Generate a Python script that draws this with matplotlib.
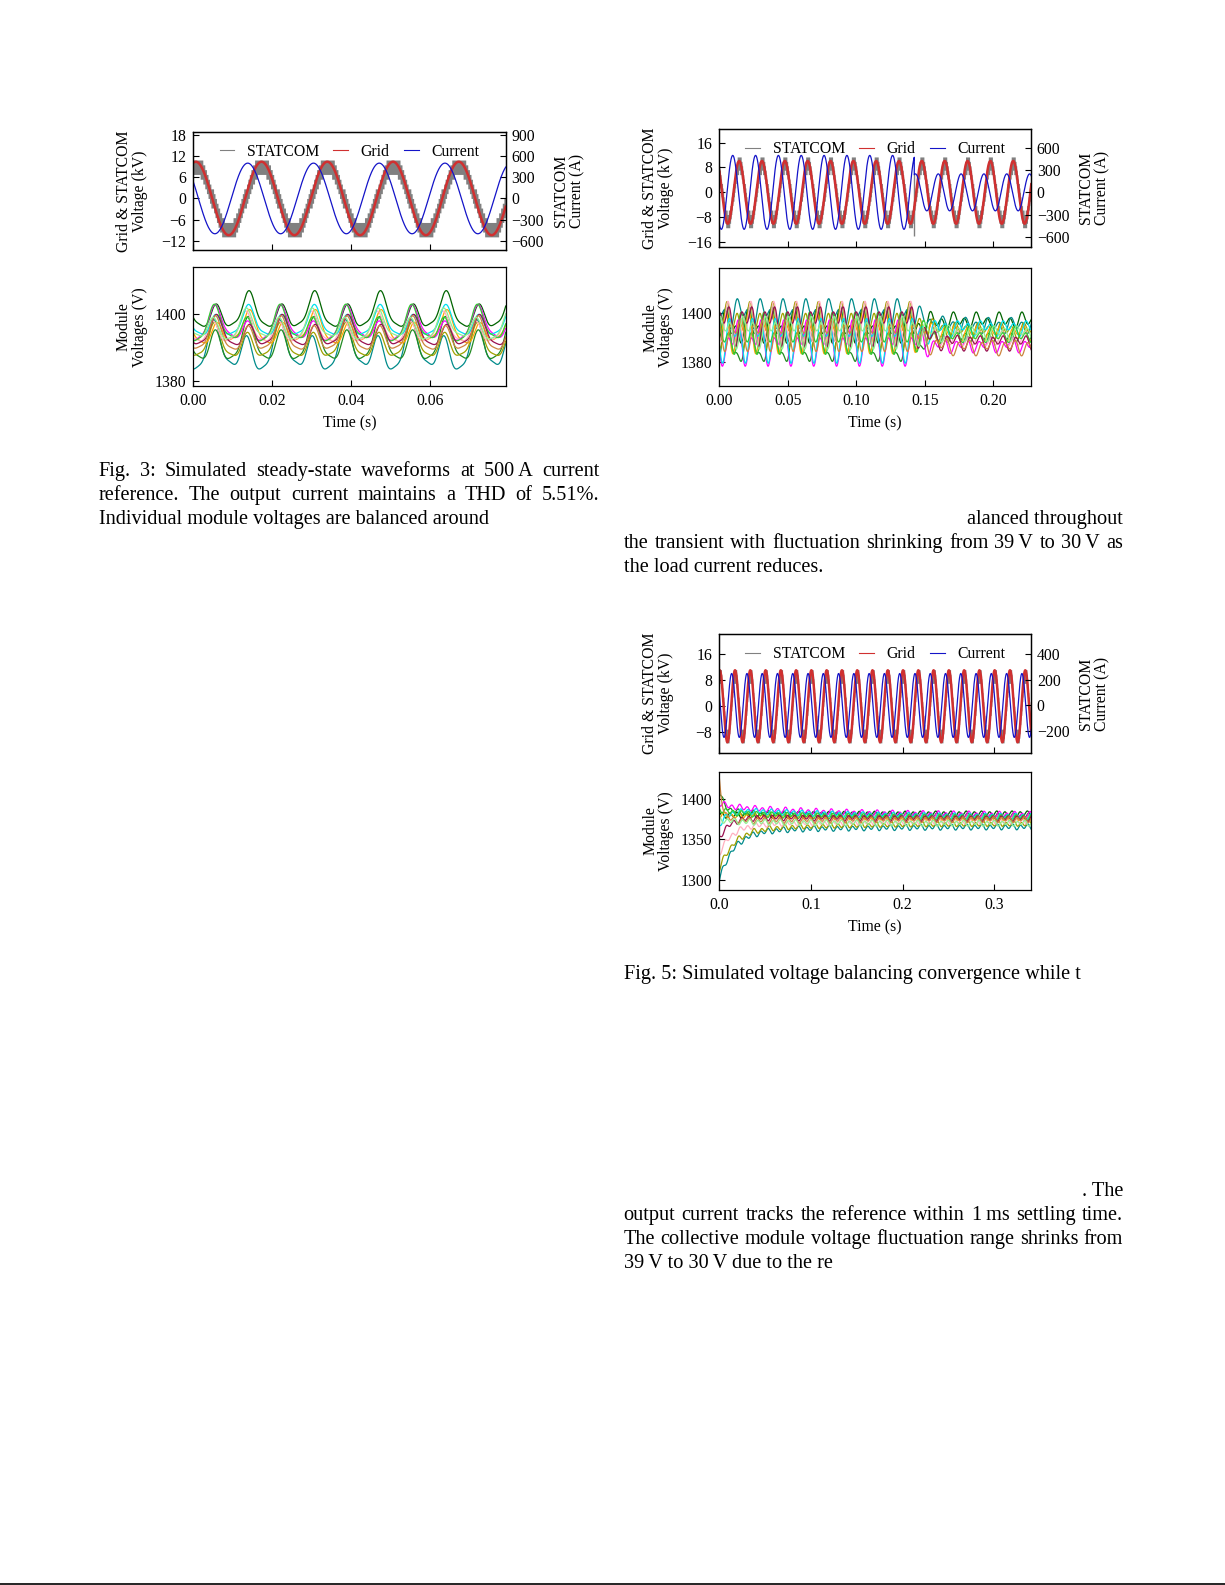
"""Page with three simulated STATCOM waveform figures and the surrounding caption text."""

import matplotlib

matplotlib.use("Agg")
import matplotlib.pyplot as plt
import numpy as np
from matplotlib.lines import Line2D
from matplotlib.ticker import FormatStrFormatter

W, H = 1225, 1585
plt.rcParams["font.family"] = ["Liberation Serif", "DejaVu Serif"]

TICK_SIZE = 11.3
TEXT_SIZE = 14.6
GRID_C = "#d03030"
STAT_C = "#808080"
CURR_C = "#1414c8"
MODULE_COLORS = ["#006400", "#008b8b", "#228b22", "#a0a000", "#ffa500", "#ff00ff",
                 "#ffb0c0", "#00e0ee", "#32cd32", "#9a1050", "#cd853f", "#90ee90"]

LINE_HZ = 60.0
N_LEVELS = 8

# --- Fig. 3: steady state at 500 A ---
F3_T_END = 0.0792
F3_LEVEL_KV = 1.36
F3_GRID_AMP_KV = 10.4
F3_GRID_PEAK_S = 0.0173
F3_CURR_AMP_A = 500
F3_CURR_PEAK_S = 0.0138
F3_MEAN_V = [1400, 1389, 1391, 1391, 1395, 1396, 1395, 1397, 1396, 1394, 1393, 1396]
F3_R120_V = [4.0, 5.5, 5.0, 4.0, 3.5, 3.5, 3.5, 3.5, 4.0, 3.5, 4.0, 3.5]
F3_R60_V = [2.0, 2.5, 2.0, 1.5, 2.0, 2.5, 1.5, 1.5, 2.0, 1.5, 1.5, 1.5]
F3_P120_S = [0.0058, 0.0052, 0.0056, 0.0054, 0.0060, 0.0055, 0.0050, 0.0057, 0.0053, 0.0059, 0.0056, 0.0051]
F3_P60_S = [0.0140, 0.0060, 0.0140, 0.0220, 0.0470, 0.0560, 0.0300, 0.0140, 0.0060, 0.0390, 0.0220, 0.0310]

# --- Fig. 4: load current step ---
F4_T_END = 0.2277
F4_LEVEL_KV = 1.425
F4_GRID_AMP_KV = 10.1
F4_GRID_PEAK_S = 0.0145
F4_CURR_PEAK_S = 0.0098
F4_CURR_BEFORE_A = 500
F4_CURR_AFTER_A = 250
F4_STEP_S = 0.1423
F4_SPIKE_KV = -14.0
F4_MEAN_BEFORE_V = [1394, 1400, 1389, 1396, 1393, 1388, 1394, 1390, 1391, 1396, 1392, 1393]
F4_MEAN_AFTER_V = [1397, 1395, 1391, 1393, 1392, 1387, 1389, 1394, 1391, 1388, 1386, 1392]
F4_R120_BEFORE_V = [4.0, 3.5, 4.0, 6.0, 5.0, 5.0, 6.0, 5.0, 5.0, 5.0, 4.0, 4.0]
F4_R60_BEFORE_V = [4.0, 3.5, 10.0, 5.0, 5.0, 6.0, 5.0, 6.0, 5.0, 5.0, 4.0, 4.0]
F4_P60_S = [0.0221, 0.0150, 0.0221, 0.0080, 0.0190, 0.0120, 0.0060, 0.0100, 0.0170, 0.0040, 0.0130, 0.0200]
F4_R120_AFTER_V = 2.2
F4_R60_AFTER_V = 1.5

# --- Fig. 5: voltage balancing convergence ---
F5_T_END = 0.3404
F5_LEVEL_KV = 1.40
F5_GRID_AMP_KV = 11.0
F5_GRID_PEAK_S = 0.0005
F5_CURR_AMP_A = 250
F5_CURR_PEAK_S = 0.0135
F5_START_V = [1380, 1300, 1410, 1313, 1380, 1395, 1332, 1368, 1388, 1352, 1424, 1375]
F5_SETTLE_V = [1380, 1360, 1384, 1362, 1380, 1391, 1368, 1388, 1383, 1378, 1373, 1372]
F5_FINAL_V = [1382, 1366, 1378, 1370, 1376, 1380, 1373, 1378, 1377, 1376, 1375, 1370]
F5_TAU_S = [0.010, 0.016, 0.006, 0.016, 0.010, 0.010, 0.014, 0.010, 0.010, 0.012, 0.004, 0.010]
F5_R120_V = 2.8
F5_R60_V = 1.2

PAGE_LINES = [
    ("Fig. 3: Simulated steady-state waveforms at 500\u2009A current", 98.5, 599.5, 475.7, "justify"),
    ("reference. The output current maintains a THD of 5.51%.", 98.5, 599.5, 499.7, "justify"),
    ("Individual module voltages are balanced around", 98.5, 599.5, 523.7, "left"),
    ("alanced throughout", 623.5, 1123.0, 524.0, "right"),
    ("the transient with fluctuation shrinking from 39\u2009V to 30\u2009V as", 623.5, 1123.0, 548.3, "justify"),
    ("the load current reduces.", 623.5, 1123.0, 572.5, "left"),
    ("Fig. 5: Simulated voltage balancing convergence while t", 623.5, 1123.0, 979.3, "left"),
    (". The", 623.5, 1123.0, 1196.0, "right"),
    ("output current tracks the reference within 1\u2009ms settling time.", 623.5, 1123.0, 1220.0, "justify"),
    ("The collective module voltage fluctuation range shrinks from", 623.5, 1123.0, 1244.0, "justify"),
    ("39\u2009V to 30\u2009V due to the re", 623.5, 1123.0, 1267.7, "left"),
]


def rect(left, top, right, bottom):
    return [left / W, 1 - bottom / H, (right - left) / W, (bottom - top) / H]


def wave(t, amp, peak, hz=LINE_HZ):
    return amp * np.cos(2 * np.pi * hz * (t - peak))


def statcom_band(v, step):
    k = np.floor(np.abs(v) / step)
    lo = (k - 2) * step
    hi = np.minimum(k + 2, N_LEVELS) * step
    sign = np.where(v >= 0, 1.0, -1.0)
    a, b = sign * lo, sign * hi
    return np.minimum(a, b), np.maximum(a, b)


def style(ax, labelsize=TICK_SIZE):
    for spine in ax.spines.values():
        spine.set_linewidth(0.9)
    ax.tick_params(direction="in", length=4, width=0.8, labelsize=labelsize, pad=5)


def draw_figure(top, bottom, t, grid, current, modules, xlim, xticks, xfmt,
                ylim, yticks, ylim_a, yticks_a, vlim, vticks, step, labels_x, spike=None):
    ax = fig.add_axes(rect(*top))
    lo, hi = statcom_band(grid, step)
    ax.fill_between(t, lo, hi, color=STAT_C, lw=0, zorder=1)
    if spike is not None:
        ax.vlines(spike[0], spike[1], 6, color=STAT_C, lw=1.0, zorder=1)
    ax.plot(t, grid, color=GRID_C, lw=1.8, zorder=2)
    ax.set(xlim=xlim, ylim=ylim, xticks=xticks, yticks=yticks)
    ax.tick_params(labelbottom=False)
    style(ax)
    ax.tick_params(right=False, top=False)

    ax2 = ax.twinx()
    ax2.plot(t, current, color=CURR_C, lw=0.9)
    ax2.set(ylim=ylim_a, yticks=yticks_a)
    style(ax2)
    ax2.tick_params(left=False, top=False, bottom=False, pad=4)
    handles = [Line2D([], [], color=STAT_C, lw=0.8), Line2D([], [], color=GRID_C, lw=0.8),
               Line2D([], [], color=CURR_C, lw=0.8)]
    ax2.legend(handles, ["STATCOM", "Grid", "Current"], loc="center", ncol=3, frameon=False,
               bbox_to_anchor=(0.5, 0.83), fontsize=TICK_SIZE, handlelength=0.95,
               handletextpad=0.8, columnspacing=0.9, borderaxespad=0)

    axb = fig.add_axes(rect(*bottom))
    for trace, color in zip(modules, MODULE_COLORS):
        axb.plot(t, trace, color=color, lw=0.9)
    axb.set(xlim=xlim, ylim=vlim, xticks=xticks, yticks=vticks)
    axb.xaxis.set_major_formatter(FormatStrFormatter(xfmt))
    style(axb)
    axb.tick_params(right=False, top=False)

    cx_left, cx_right = labels_x
    ym_top = (top[1] + top[3]) / 2
    ym_bot = (bottom[1] + bottom[3]) / 2
    kw = dict(rotation=90, ha="center", va="center", multialignment="center",
              fontsize=TICK_SIZE, linespacing=1.0)
    fig.text(cx_left / W, 1 - ym_top / H, "Grid & STATCOM\nVoltage (kV)", **kw)
    fig.text(cx_right / W, 1 - ym_top / H, "STATCOM\nCurrent (A)", **kw)
    fig.text(cx_left / W, 1 - ym_bot / H, "Module\nVoltages (V)", **kw)
    fig.text((top[0] + top[2]) / 2 / W, 1 - (bottom[3] + 37.5) / H, "Time (s)",
             ha="center", va="center", fontsize=TICK_SIZE)


def place_line(text, x0, x1, baseline, mode):
    y = 1 - baseline / H
    if mode == "left":
        fig.text(x0 / W, y, text, fontsize=TEXT_SIZE, va="baseline", ha="left")
        return
    if mode == "right":
        fig.text(x1 / W, y, text, fontsize=TEXT_SIZE, va="baseline", ha="right")
        return
    words = text.split(" ")
    items = [fig.text(0, y, w, fontsize=TEXT_SIZE, va="baseline", ha="left") for w in words]
    renderer = fig.canvas.get_renderer()
    widths = [item.get_window_extent(renderer).width for item in items]
    gap = (x1 - x0 - sum(widths)) / (len(words) - 1)
    x = x0
    for item, width in zip(items, widths):
        item.set_x(x / W)
        x += width + gap


fig = plt.figure(figsize=(W / 100, H / 100), dpi=100)

# Fig. 3
t3 = np.linspace(0, F3_T_END, 6000)
grid3 = wave(t3, F3_GRID_AMP_KV, F3_GRID_PEAK_S)
curr3 = wave(t3, F3_CURR_AMP_A, F3_CURR_PEAK_S)
mods3 = [m + wave(t3, a, p, 2 * LINE_HZ) + 0.25 * wave(t3, a, p, 4 * LINE_HZ) + wave(t3, b, q)
         for m, a, p, b, q in zip(F3_MEAN_V, F3_R120_V, F3_P120_S, F3_R60_V, F3_P60_S)]
draw_figure((193.3, 131.7, 505.7, 250.0), (193.3, 267.3, 505.7, 386.0), t3, grid3, curr3, mods3,
            (0, F3_T_END), [0, 0.02, 0.04, 0.06], "%.2f",
            (-14.6, 18.9), [-12, -6, 0, 6, 12, 18], (-730, 945), [-600, -300, 0, 300, 600, 900],
            (1378.4, 1414.0), [1380, 1400], F3_LEVEL_KV, (131.5, 569.0))

# Fig. 4
t4 = np.linspace(0, F4_T_END, 9000)
after = t4 >= F4_STEP_S
blend = np.where(after, 1 - np.exp(-(t4 - F4_STEP_S) / 0.008), 0.0)
grid4 = wave(t4, F4_GRID_AMP_KV, F4_GRID_PEAK_S)
curr4 = np.where(after, wave(t4, F4_CURR_AFTER_A, F4_CURR_PEAK_S), wave(t4, F4_CURR_BEFORE_A, F4_CURR_PEAK_S))
mods4 = []
for i in range(len(F4_MEAN_BEFORE_V)):
    level = F4_MEAN_BEFORE_V[i] + (F4_MEAN_AFTER_V[i] - F4_MEAN_BEFORE_V[i]) * blend
    a120 = F4_R120_BEFORE_V[i] + (F4_R120_AFTER_V - F4_R120_BEFORE_V[i]) * blend
    a60 = F4_R60_BEFORE_V[i] + (F4_R60_AFTER_V - F4_R60_BEFORE_V[i]) * blend
    mods4.append(level + a120 * np.cos(2 * np.pi * 2 * LINE_HZ * (t4 - 0.004 - 0.0004 * i))
                 + a60 * np.cos(2 * np.pi * LINE_HZ * (t4 - F4_P60_S[i])))
draw_figure((719.3, 129.3, 1031.3, 247.0), (719.3, 268.3, 1031.3, 386.0), t4, grid4, curr4, mods4,
            (0, F4_T_END), [0, 0.05, 0.10, 0.15, 0.20], "%.2f",
            (-17.6, 20.3), [-16, -8, 0, 8, 16], (-739, 853), [-600, -300, 0, 300, 600],
            (1369.9, 1418.6), [1380, 1400], F4_LEVEL_KV, (658.5, 1094.0),
            spike=(F4_STEP_S, F4_SPIKE_KV))

# Fig. 5
t5 = np.linspace(0, F5_T_END, 12000)
grid5 = wave(t5, F5_GRID_AMP_KV, F5_GRID_PEAK_S)
curr5 = wave(t5, F5_CURR_AMP_A, F5_CURR_PEAK_S)
mods5 = []
for i in range(len(F5_START_V)):
    level = (F5_FINAL_V[i] + (F5_SETTLE_V[i] - F5_FINAL_V[i]) * np.exp(-t5 / 0.12)
             + (F5_START_V[i] - F5_SETTLE_V[i]) * np.exp(-t5 / F5_TAU_S[i]))
    mods5.append(level + F5_R120_V * np.cos(2 * np.pi * 2 * LINE_HZ * (t5 - 0.003 - 0.0005 * i))
                 + F5_R60_V * np.cos(2 * np.pi * LINE_HZ * (t5 - 0.0013 * i)))
draw_figure((719.3, 634.0, 1031.3, 753.0), (719.3, 771.7, 1031.3, 890.0), t5, grid5, curr5, mods5,
            (0, F5_T_END), [0, 0.1, 0.2, 0.3], "%.1f",
            (-14.3, 22.1), [-8, 0, 8, 16], (-372, 559), [-200, 0, 200, 400],
            (1287.6, 1433.7), [1300, 1350, 1400], F5_LEVEL_KV, (658.5, 1094.0))

for text, x0, x1, baseline, mode in PAGE_LINES:
    place_line(text, x0, x1, baseline, mode)

fig.add_artist(Line2D([0, 1], [1 - 1583.5 / H] * 2, color="black", lw=1.2, transform=fig.transFigure))

fig.savefig("out.png", dpi=100)
